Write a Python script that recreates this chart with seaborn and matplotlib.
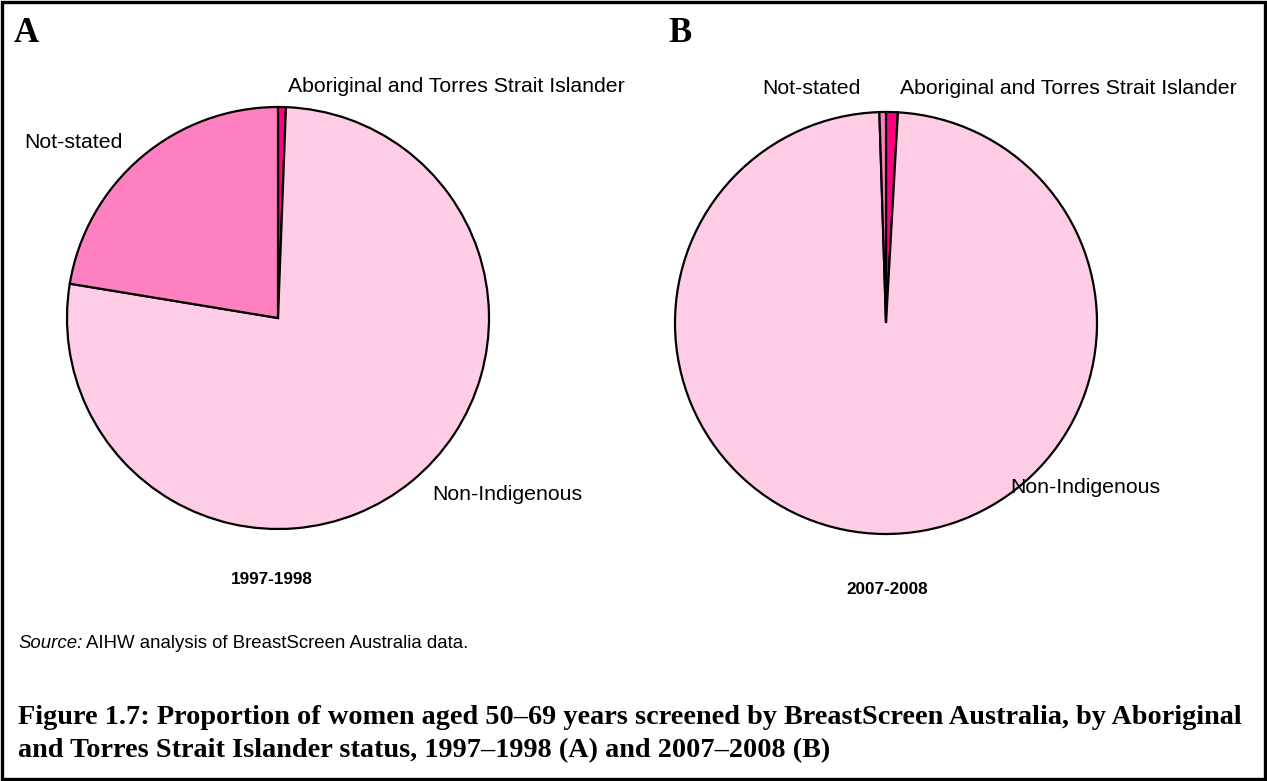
import matplotlib
matplotlib.use("Agg")
import matplotlib.pyplot as plt
import seaborn as sns
from matplotlib.patches import Rectangle

# data
categories = ["Aboriginal and Torres Strait Islander", "Non-Indigenous", "Not-stated"]
share_1997 = [0.6, 77.0, 22.4]
share_2007 = [0.9, 98.6, 0.5]
period_labels = ["1997-1998", "2007-2008"]
panel_letters = ["A", "B"]

sns.set_theme(style="white")
plt.rcParams["font.family"] = ["Liberation Sans", "DejaVu Sans"]
plt.rcParams["text.color"] = "black"

colors = sns.color_palette(["#FF0080", "#FFCCE6", "#FF80C0"])

W, H = 1267, 781
fig = plt.figure(figsize=(W / 100, H / 100), dpi=100)


def fx(x):
    return x / W


def fy(y):
    return 1 - y / H


def pie_axes(cx, cy, r):
    ax = fig.add_axes([fx(cx - r), fy(cy + r), 2 * r / W, 2 * r / H])
    return ax


panels = [
    (share_1997, 278, 318),
    (share_2007, 886, 323),
]
for vals, cx, cy in panels:
    ax = pie_axes(cx, cy, 211)
    ax.pie(vals, colors=colors, startangle=90, counterclock=False,
           wedgeprops=dict(edgecolor="black", linewidth=1.6))
    ax.set_xlim(-1, 1)
    ax.set_ylim(-1, 1)
    ax.set_aspect("equal")
    ax.axis("off")

# panel letters
fig.text(fx(14), fy(34), panel_letters[0], fontsize=25, fontweight="bold",
         family="Liberation Serif", va="center", ha="left")
fig.text(fx(668), fy(34), panel_letters[1], fontsize=25, fontweight="bold",
         family="Liberation Serif", va="center", ha="left")

# slice labels
lab = dict(fontsize=15.3, va="center", ha="left", color="black")
fig.text(fx(288), fy(87), categories[0], **lab)
fig.text(fx(24), fy(142), categories[2], **lab)
fig.text(fx(432), fy(494), categories[1], **lab)
fig.text(fx(900), fy(88), categories[0], **lab)
fig.text(fx(762), fy(88), categories[2], **lab)
fig.text(fx(1010), fy(488), categories[1], **lab)

# period labels
fig.text(fx(272), fy(580), period_labels[0], fontsize=12.3, fontweight="bold",
         ha="center", va="center")
fig.text(fx(887), fy(589), period_labels[1], fontsize=12.3, fontweight="bold",
         ha="center", va="center")

# source line
renderer = fig.canvas.get_renderer()
t1 = fig.text(fx(18), fy(643), "Source:", fontsize=13.4, style="italic",
              ha="left", va="center")
bb = t1.get_window_extent(renderer)
fig.text(bb.x1 / W + fx(4), fy(643), "AIHW analysis of BreastScreen Australia data.",
         fontsize=13.4, ha="left", va="center")

# caption
cap = dict(fontsize=20.3, fontweight="bold", family="Liberation Serif",
           ha="left", va="center")
fig.text(fx(18), fy(718), "Figure 1.7: Proportion of women aged 50\u201369 years screened by "
         "BreastScreen Australia, by Aboriginal", **cap)
fig.text(fx(18), fy(751), "and Torres Strait Islander status, 1997\u20131998 (A) and "
         "2007\u20132008 (B)", **cap)

# border
fig.patches.append(Rectangle((0.0015, 0.0025), 0.997, 0.995, transform=fig.transFigure,
                             fill=False, edgecolor="black", linewidth=2.4))

fig.savefig("out.png", dpi=100)
